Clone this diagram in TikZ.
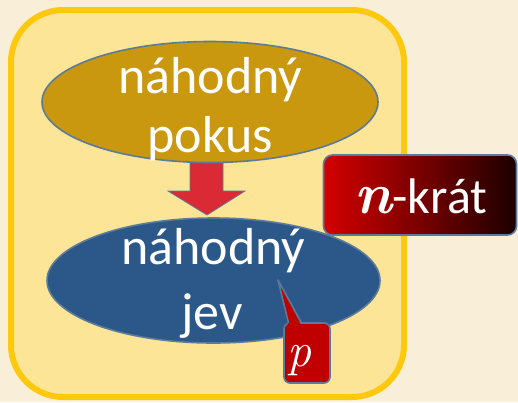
\documentclass[tikz,border=0pt]{standalone}
\usepackage{fontspec}
\setmainfont{Carlito}
\newfontfamily\lmfont{Latin Modern Roman}
\usetikzlibrary{shapes.geometric}
\definecolor{bgcream}{HTML}{F9EFD9}
\definecolor{boxfill}{HTML}{FCE597}
\definecolor{boxline}{HTML}{FDC90E}
\definecolor{goldfill}{HTML}{C9980E}
\definecolor{bluefill}{HTML}{2B5889}
\definecolor{edgeblue}{HTML}{5B7B9A}
\definecolor{arrowred}{HTML}{D92A35}
\definecolor{pred}{HTML}{C00000}
\definecolor{gradleft}{HTML}{D40000}
\definecolor{gradright}{HTML}{1C0000}
\tikzset{
  ellbox/.style={ellipse, draw=edgeblue, line width=1.6pt, inner sep=0pt},
  bigtxt/.style={text=white, font=\fontsize{52}{60}\selectfont, inner sep=0pt, anchor=base},
  tagbox/.style={rectangle, rounded corners=9pt, draw=edgeblue, line width=1.6pt,
     left color=gradleft, right color=gradright, minimum width=193pt, minimum height=80pt, inner sep=0pt},
  pbox/.style={rectangle, rounded corners=6pt, draw=edgeblue, line width=1.6pt, fill=pred,
     minimum width=46pt, minimum height=60pt, inner sep=0pt}
}
\begin{document}
\begin{tikzpicture}[x=1pt,y=-1pt]
  \fill[bgcream] (0,0) rectangle (518,402);
  \useasboundingbox (0,0) rectangle (518,402);
  % yellow frame
  \draw[boxline, fill=boxfill, line width=6pt, rounded corners=52pt] (11,10) rectangle (404,397);
  % block arrow
  \draw[edgeblue, line width=0.8pt, fill=arrowred]
    (190,160) -- (223,160) -- (223,191) -- (245,191) -- (207,215) -- (168,191) -- (190,191) -- cycle;
  % ellipses
  \node[ellbox, fill=goldfill, minimum width=336pt, minimum height=121pt] (pokus) at (210,102) {};
  \node[bigtxt] (t1) at (210.5,93) {náhodný};
  \node[bigtxt] (t2) at (210,152) {pokus};
  \node[ellbox, fill=bluefill, minimum width=333pt, minimum height=125pt] (jev) at (213.5,280.5) {};
  \node[bigtxt] (t3) at (213.5,264) {náhodný};
  \node[bigtxt] (t4) at (212,329) {jev};
  % n-krat tag
  \node[tagbox] (nk) at (420,195) {};
  \node[text=white, font=\fontsize{50}{55}\selectfont, inner sep=0pt, anchor=base] (nkt) at (421,213)
     {{\fontsize{58}{60}\selectfont\lmfont\bfseries\itshape n}-krát};
  % p callout
  \coordinate (ptip) at (278,280);
  \node[pbox] (pb) at (307,353) {};
  \fill[pred] (288.5,326) -- (ptip) -- (301.5,326) -- cycle;
  \draw[edgeblue, line width=1.6pt, line join=round] (288.5,323) -- (ptip) -- (301.5,323);
  \node[text=white, font=\fontsize{48}{50}\selectfont\lmfont\itshape, inner sep=0pt, anchor=base] (pt) at (299,366) {p};
\end{tikzpicture}
\end{document}
